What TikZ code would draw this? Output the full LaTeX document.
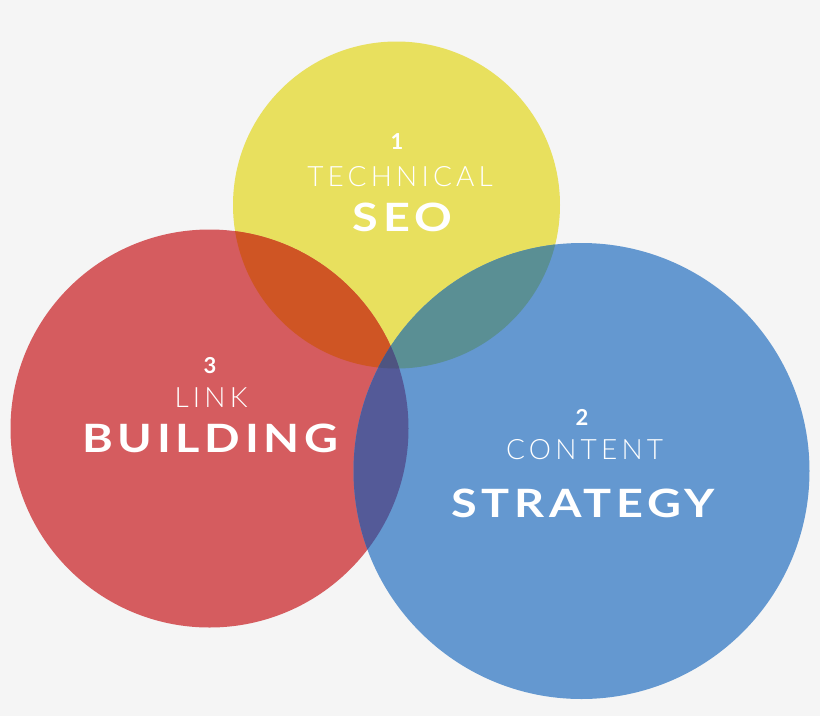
\documentclass[tikz,border=0pt]{standalone}
\usepackage{fontspec}
\setmainfont{Lato}
\newfontfamily\lightfont{Lato Light}[LetterSpace=15]
\newfontfamily\bigfont{Lato}[LetterSpace=10]
\definecolor{bg}{HTML}{F5F5F5}
\definecolor{cyel}{HTML}{E8E05E}
\definecolor{cred}{HTML}{D55C5F}
\definecolor{cblue}{HTML}{6498D0}
\definecolor{cry}{HTML}{CF5524}
\definecolor{cyb}{HTML}{5A8F94}
\definecolor{crb}{HTML}{545A98}
\definecolor{ctri}{HTML}{4E5480}
\newcommand{\lt}[1]{#1\kern-0.15em}
\newcommand{\bg}[1]{\scalebox{1.2}[1]{#1\kern-3.9pt}}
\tikzset{
  num/.style={text=white, inner sep=0pt, font=\bfseries\fontsize{22}{22}\selectfont},
  light/.style={text=white, inner sep=0pt, font=\lightfont\fontsize{28}{28}\selectfont},
  big/.style={text=white, inner sep=0pt, font=\bigfont\bfseries\fontsize{39}{39}\selectfont},
}
\begin{document}
\begin{tikzpicture}[x=1pt,y=-1pt]
\useasboundingbox (0,0) rectangle (820,716);
\fill[bg] (0,0) rectangle (820,716);
\coordinate (Y) at (396.5,205);
\coordinate (R) at (209.5,428.5);
\coordinate (B) at (581.5,471);
\def\ry{163.5pt}\def\rr{199pt}\def\rb{228pt}
\fill[cyel] (Y) circle[radius=\ry];
\fill[cred] (R) circle[radius=\rr];
\fill[cblue] (B) circle[radius=\rb];
\begin{scope}\clip (Y) circle[radius=\ry];\fill[cry] (R) circle[radius=\rr];\end{scope}
\begin{scope}\clip (Y) circle[radius=\ry];\fill[cyb] (B) circle[radius=\rb];\end{scope}
\begin{scope}\clip (R) circle[radius=\rr];\fill[crb] (B) circle[radius=\rb];\end{scope}
\begin{scope}\clip (Y) circle[radius=\ry];\clip (R) circle[radius=\rr];\fill[ctri] (B) circle[radius=\rb];\end{scope}
\node[num] (n1) at (397,142) {1};
\node[light] (t1) at (398,176.5) {\lt{TECHNICAL}};
\node[big] (b1) at (400,217) {\bg{SEO}};
\node[num] (n3) at (210,366) {3};
\node[light] (t3) at (209,398) {\lt{LINK}};
\node[big] (b3) at (208,438) {\bg{BUILDING}};
\node[num] (n2) at (582,417) {2};
\node[light] (t2) at (582.5,450) {\lt{CONTENT}};
\node[big] (b2) at (581,503) {\bg{STRATEGY}};
\end{tikzpicture}
\end{document}
